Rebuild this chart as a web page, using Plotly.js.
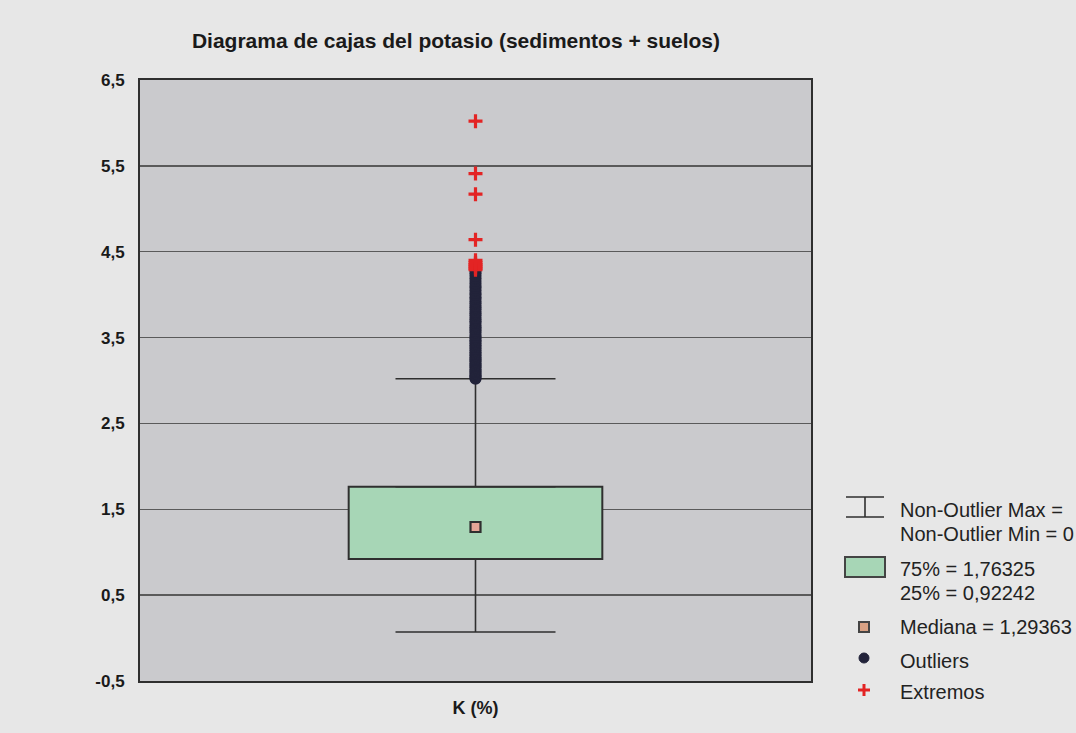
<!DOCTYPE html>
<html>
<head>
<meta charset="utf-8">
<script src="https://cdn.plot.ly/plotly-3.0.1.min.js"></script>
<style>html,body{margin:0;padding:0;background:#e7e7e7;}#chart{width:1076px;height:733px;}</style>
</head>
<body>
<div id="chart"></div>
<script>
// ---- data ----
const category = ["K (%)"];
const q1 = [0.92242];
const median = [1.29363];
const q3 = [1.76325];
const nonOutlierMax = [3.02];
const nonOutlierMin = [0.07];
const outliers = [3.02,3.03,3.05,3.06,3.08,3.10,3.11,3.13,3.15,3.17,3.18,3.20,3.22,3.24,3.25,3.27,3.29,3.31,3.33,3.35,3.37,3.39,3.41,3.43,3.45,3.47,3.49,3.51,3.53,3.56,3.58,3.60,3.62,3.64,3.67,3.69,3.71,3.73,3.76,3.78,3.80,3.83,3.85,3.87,3.90,3.92,3.95,3.97,4.00,4.02,4.05,4.08,4.10,4.13,4.16,4.19,4.22,4.25,4.27];
const extremos = [4.29,4.31,4.33,4.35,4.37,4.40,4.64,5.17,5.41,6.02];
const yTickVals = [-0.5,0.5,1.5,2.5,3.5,4.5,5.5,6.5];
const yTickText = ["-0,5","0,5","1,5","2,5","3,5","4,5","5,5","6,5"];
// legend texts as visible in the reference (values of max/min are cut by the image edge there)
const legendLines = [
  "Non-Outlier Max =", "Non-Outlier Min = 0",
  "75% = 1,76325", "25% = 0,92242",
  "Mediana = 1,29363", "Outliers", "Extremos"
];

// ---- styling ----
const W = 1076, H = 733;
const FONT = "Liberation Sans, Arial, sans-serif";
const DARK = "#2f2f2f";
const GREEN = "#a7d6b6";
const PINK = "#e6a596";
const NAVY = "#22233a";
const RED = "#e32424";
const X = p => p / W;
const Y = p => 1 - p / H;

const traces = [
  { // box body (Q1..Q3)
    type: "bar", x: category, base: q1, y: q3.map((v, i) => v - q1[i]),
    width: 0.378, marker: { color: GREEN, line: { color: DARK, width: 2 } },
    hoverinfo: "skip", showlegend: false
  },
  { // upper whisker
    type: "scatter", mode: "markers", x: category, y: q3,
    marker: { size: 1, color: "rgba(0,0,0,0)" },
    error_y: { type: "data", symmetric: false, array: nonOutlierMax.map((v, i) => v - q3[i]), arrayminus: [0], width: 80, thickness: 1.6, color: DARK },
    showlegend: false, hoverinfo: "skip"
  },
  { // lower whisker
    type: "scatter", mode: "markers", x: category, y: q1,
    marker: { size: 1, color: "rgba(0,0,0,0)" },
    error_y: { type: "data", symmetric: false, array: [0], arrayminus: q1.map((v, i) => v - nonOutlierMin[i]), width: 80, thickness: 1.6, color: DARK },
    showlegend: false, hoverinfo: "skip"
  },
  { // outliers
    type: "scatter", mode: "markers", x: outliers.map(() => category[0]), y: outliers,
    marker: { symbol: "circle", size: 12, color: NAVY }, showlegend: false
  },
  { // extremes
    type: "scatter", mode: "markers", x: extremos.map(() => category[0]), y: extremos,
    marker: { symbol: "cross-thin", size: 10, line: { color: RED, width: 3.2 } }, showlegend: false
  },
  { // median
    type: "scatter", mode: "markers", x: category, y: median,
    marker: { symbol: "square", size: 10, color: PINK, line: { color: DARK, width: 2.2 } }, showlegend: false
  }
];

// legend built from shapes + annotations
const shapes = [
  { type: "rect", xref: "x domain", yref: "y domain", x0: 0, x1: 1, y0: 0, y1: 1, layer: "below", fillcolor: "#cacacd", line: { width: 0 } },
  { type: "line", xref: "paper", yref: "paper", x0: X(846), x1: X(884), y0: Y(497), y1: Y(497), line: { color: DARK, width: 1.6 } },
  { type: "line", xref: "paper", yref: "paper", x0: X(846), x1: X(884), y0: Y(517), y1: Y(517), line: { color: DARK, width: 1.6 } },
  { type: "line", xref: "paper", yref: "paper", x0: X(865), x1: X(865), y0: Y(497), y1: Y(517), line: { color: DARK, width: 1.6 } },
  { type: "rect", xref: "paper", yref: "paper", x0: X(845), x1: X(885), y0: Y(557), y1: Y(577), fillcolor: GREEN, line: { color: "#444", width: 2 } },
  { type: "rect", xref: "paper", yref: "paper", x0: X(859), x1: X(869), y0: Y(622), y1: Y(632), fillcolor: "#d9a184", line: { color: "#444", width: 2 } },
  { type: "circle", xref: "paper", yref: "paper", x0: X(859), x1: X(869), y0: Y(653), y1: Y(663), fillcolor: NAVY, line: { color: NAVY, width: 1 } },
  { type: "line", xref: "paper", yref: "paper", x0: X(858), x1: X(870), y0: Y(690), y1: Y(690), line: { color: RED, width: 3 } },
  { type: "line", xref: "paper", yref: "paper", x0: X(864), x1: X(864), y0: Y(684), y1: Y(696), line: { color: RED, width: 3 } }
];

const legendY = [510, 534, 569, 593, 627, 661, 692];
const annotations = legendLines.map((t, i) => ({
  xref: "paper", yref: "paper", x: X(898), y: Y(legendY[i]),
  xanchor: "left", yanchor: "middle", showarrow: false, align: "left",
  text: t, font: { family: FONT, size: 20, color: "#222" }
}));

const layout = {
  width: W, height: H,
  paper_bgcolor: "#e7e7e7", plot_bgcolor: "rgba(0,0,0,0)",
  margin: { l: 0, r: 0, t: 0, b: 0, pad: 0, autoexpand: false },
  separators: ",.",
  showlegend: false,
  title: {
    text: "<b>Diagrama de cajas del potasio (sedimentos + suelos)</b>",
    x: X(456), xref: "paper", xanchor: "center", y: Y(41), yref: "paper", yanchor: "middle",
    font: { family: FONT, size: 21, color: "#1a1a1a" }
  },
  xaxis: {
    type: "category", domain: [X(140), X(811)], range: [-0.5, 0.5],
    showgrid: false, zeroline: false, showline: true, mirror: true, linecolor: DARK, linewidth: 2,
    ticks: "", ticklabelstandoff: 9,
    tickfont: { family: FONT, size: 18, color: "#1a1a1a", weight: "bold" },
    fixedrange: true
  },
  yaxis: {
    domain: [Y(681), Y(80)], range: [-0.5, 6.5],
    tickvals: yTickVals, ticktext: yTickText,
    showgrid: true, gridcolor: "#5a5a5a", gridwidth: 1.5, zeroline: false,
    showline: true, mirror: true, linecolor: DARK, linewidth: 2,
    ticks: "", ticklabelstandoff: 10,
    tickfont: { family: FONT, size: 17, color: "#1a1a1a", weight: "bold" },
    fixedrange: true
  },
  shapes: shapes,
  annotations: annotations
};

Plotly.newPlot("chart", traces, layout, { staticPlot: true, displayModeBar: false });
</script>
</body>
</html>
